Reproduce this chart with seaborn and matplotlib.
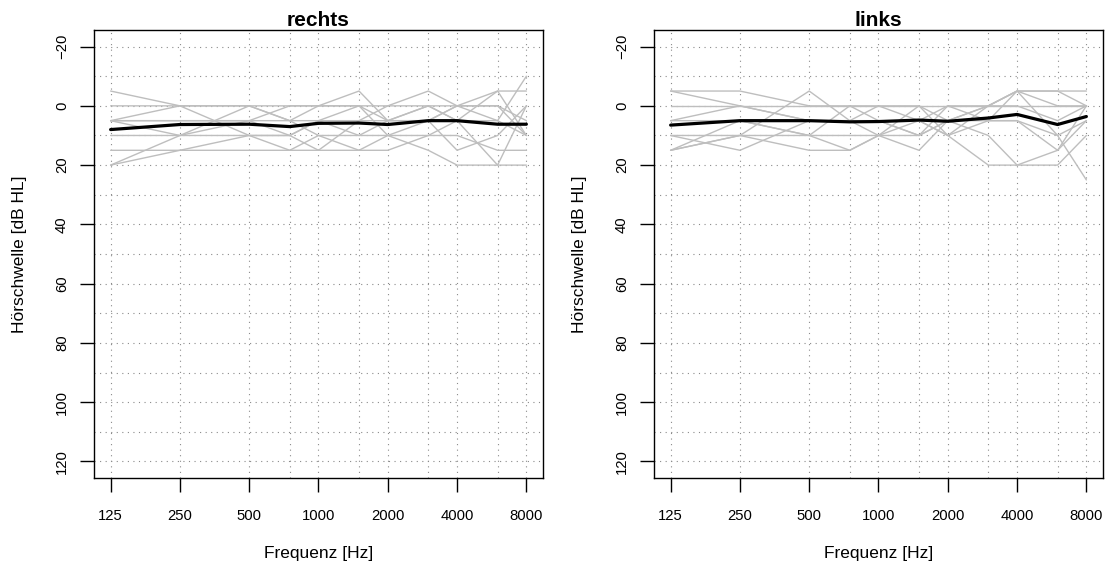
import numpy as np
import pandas as pd
import matplotlib
matplotlib.use("Agg")
import matplotlib.pyplot as plt
import seaborn as sns

# ---------------- data ----------------
freqs = [125, 250, 500, 750, 1000, 1500, 2000, 3000, 4000, 6000, 8000]
tick_freqs = [125, 250, 500, 1000, 2000, 4000, 8000]
tick_labels = ["125", "250", "500", "1000", "2000", "4000", "8000"]
grid_minor_freqs = [750, 1500, 3000, 6000]

# individual thresholds, right ear (dB HL)
rechts_subjects = [
    [-5, 0, 10, 10, 5, 5, 5, 0, 0, 5, 10],
    [0, 0, 0, 0, 0, -5, 5, 5, 0, 0, 5],
    [5, 0, 0, 5, 10, 10, 10, 15, 20, 20, 20],
    [5, 5, 5, 0, 0, 0, 0, -5, 0, -5, 10],
    [10, 10, 5, 5, 5, 0, 10, 10, 5, 5, -10],
    [15, 15, 15, 15, 15, 15, 15, 10, 10, 15, 15],
    [20, 10, 10, 15, 10, 15, 10, 5, 15, 10, 0],
    [20, 15, 10, 10, 5, 10, 5, 5, 0, 0, 10],
    [5, 5, 5, 10, 15, 5, 0, 0, 5, 20, 0],
    [5, 10, 0, 5, 0, 0, 5, 0, 5, -5, -5],
]
rechts_mean = [8.0, 6.3, 6.2, 7.0, 5.9, 5.8, 6.3, 5.0, 5.0, 6.2, 6.2]

# individual thresholds, left ear (dB HL)
links_subjects = [
    [-5, -5, 0, 0, 5, 5, 10, 5, -5, -5, -5],
    [-5, 0, 5, 5, 10, 10, 5, 0, -5, 0, 0],
    [0, 0, 0, 0, 0, 0, 0, 0, 0, 0, 0],
    [5, 0, 5, 5, 5, 10, 5, 10, 20, 20, 10],
    [5, 5, 10, 10, 10, 5, 0, 5, 5, 10, 25],
    [10, 10, 10, 15, 10, 0, 10, 0, -5, 10, 5],
    [10, 15, 5, 5, 0, 5, 10, 20, 20, 15, 0],
    [15, 10, -5, 5, 5, 10, 0, 0, 0, 5, 0],
    [15, 5, 10, 0, 0, 0, 5, 5, 5, 15, 5],
    [15, 10, 15, 15, 10, 15, 5, 0, -5, -5, 0],
]
links_mean = [6.5, 5.0, 5.0, 5.4, 5.3, 4.8, 5.2, 4.1, 2.9, 6.3, 3.6]

titles = ["rechts", "links"]
xlabel = "Frequenz [Hz]"
ylabel = "Hörschwelle [dB HL]"
y_ticks = [-20, 0, 20, 40, 60, 80, 100, 120]
y_grid = list(range(-20, 121, 10))


def long_frame(subjects):
    rows = []
    for s, vals in enumerate(subjects):
        for f, v in zip(freqs, vals):
            rows.append({"subj": s, "freq": f, "db": v})
    return pd.DataFrame(rows)


# ---------------- style ----------------
sns.set_style("white")
plt.rcParams["font.family"] = ["Liberation Sans", "DejaVu Sans"]
plt.rcParams["axes.unicode_minus"] = True
for key in ["text.color", "axes.labelcolor", "xtick.color", "ytick.color",
            "xtick.labelcolor", "ytick.labelcolor"]:
    plt.rcParams[key] = "black"

W, H = 1106, 564
fig = plt.figure(figsize=(W / 100, H / 100), dpi=100)
ax_rects = [
    [94 / W, 86 / H, 449 / W, 448 / H],
    [654 / W, 86 / H, 449 / W, 448 / H],
]

lo = np.log2(125) - 0.24
hi = np.log2(8000) + 0.24

for rect, title, subj, mean in zip(ax_rects, titles,
                                    [rechts_subjects, links_subjects],
                                    [rechts_mean, links_mean]):
    ax = fig.add_axes(rect)
    ax.set_xscale("log", base=2)
    df = long_frame(subj)
    sns.lineplot(data=df, x="freq", y="db", units="subj", estimator=None,
                 color="#BEBEBE", linewidth=1.0, ax=ax, legend=False, zorder=3)
    sns.lineplot(x=freqs, y=mean, color="black", linewidth=2.3, ax=ax,
                 legend=False, zorder=4)

    ax.set_xlim(2 ** lo, 2 ** hi)
    ax.set_ylim(125.6, -25.6)

    # grid
    for f in tick_freqs + grid_minor_freqs:
        ax.axvline(f, color="#8a8a8a", linestyle=(0, (1, 4)), linewidth=0.8, zorder=1)
    for g in y_grid:
        ax.axhline(g, color="#8a8a8a", linestyle=(0, (1, 4)), linewidth=0.8, zorder=1)

    ax.set_xticks(tick_freqs)
    ax.set_xticklabels(tick_labels)
    ax.xaxis.set_minor_locator(matplotlib.ticker.NullLocator())
    ax.set_yticks(y_ticks)
    ax.set_yticklabels([str(t).replace("-", "\u2212") for t in y_ticks],
                       rotation=90, va="center")

    ax.tick_params(axis="x", direction="out", length=10, width=1, pad=12,
                   labelsize=10.7, colors="black", bottom=True)
    ax.tick_params(axis="y", direction="out", length=10, width=1, pad=8,
                   labelsize=10.7, colors="black", left=True)

    for sp in ax.spines.values():
        sp.set_visible(True)
        sp.set_color("black")
        sp.set_linewidth(1.0)

    ax.set_xlabel(xlabel, fontsize=12.5, labelpad=17, color="black")
    ax.set_ylabel(ylabel, fontsize=12.5, labelpad=20, color="black")
    ax.set_title(title, fontsize=15, fontweight="bold", pad=3, color="black")

fig.savefig("out.png", dpi=100)
